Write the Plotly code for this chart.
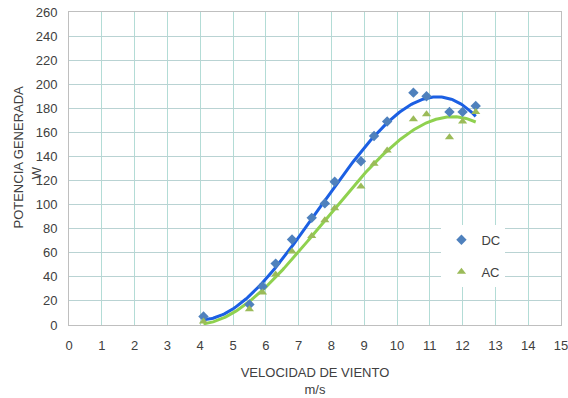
import numpy as np
import plotly.graph_objects as go

# Data
dc_speed = [4.1, 5.5, 5.9, 6.3, 6.8, 7.4, 7.8, 8.1, 8.9, 9.3, 9.7, 10.5, 10.9, 11.6, 12.0, 12.4]
dc_power = [7, 17, 32, 51, 71, 89, 101, 119, 136, 157, 169, 193, 190, 177, 177, 182]

ac_speed = [4.1, 5.5, 5.9, 6.3, 6.8, 7.4, 7.8, 8.1, 8.9, 9.3, 9.7, 10.5, 10.9, 11.6, 12.0, 12.4]
ac_power = [3, 13, 27, 42, 61, 74, 87, 97, 115, 134, 145, 171, 175, 156, 169, 177]

x_ticks = list(range(0, 16))
y_ticks = list(range(0, 261, 20))

FONT = "Liberation Sans, Arial, sans-serif"
TXT = "#404040"

def trend(xs, ys, deg=3):
    c = np.polyfit(xs, ys, deg)
    xx = np.linspace(min(xs), max(xs), 200)
    return xx, np.polyval(c, xx)

fig = go.Figure()

tx, ty = trend(dc_speed, dc_power)
fig.add_trace(go.Scatter(x=tx, y=ty, mode="lines", line=dict(color="#1b5fe3", width=3),
                         showlegend=False, hoverinfo="skip"))
tx2, ty2 = trend(ac_speed, ac_power)
fig.add_trace(go.Scatter(x=tx2, y=ty2, mode="lines", line=dict(color="#8fd14f", width=3),
                         showlegend=False, hoverinfo="skip"))

fig.add_trace(go.Scatter(x=dc_speed, y=dc_power, mode="markers", name="DC",
                         legendgroup="dc",
                         marker=dict(symbol="diamond", size=8, color="#4f81bd")))
fig.add_trace(go.Scatter(x=ac_speed, y=ac_power, mode="markers", name="AC",
                         legendgroup="ac",
                         marker=dict(symbol="triangle-up", size=8, color="#9bbb59")))

fig.update_layout(
    width=568, height=398,
    margin=dict(l=69, r=7, t=12, b=73, autoexpand=False),
    paper_bgcolor="white", plot_bgcolor="white",
    font=dict(family=FONT, size=13, color=TXT),
    legend=dict(x=0.757, y=0.32, xanchor="left", yanchor="top",
                bgcolor="white", borderwidth=0,
                traceorder="grouped", tracegroupgap=12, itemwidth=30,
                font=dict(size=13, color=TXT)),
    annotations=[
        dict(text="POTENCIA GENERADA", textangle=-90, xref="paper", yref="paper",
             x=0, y=0.535, xanchor="center", yanchor="middle", xshift=-50,
             showarrow=False, font=dict(size=13, color=TXT)),
        dict(text="W", textangle=-90, xref="paper", yref="paper",
             x=0, y=0.485, xanchor="center", yanchor="middle", xshift=-33,
             showarrow=False, font=dict(size=13, color=TXT)),
    ],
)
fig.update_xaxes(range=[0, 15], tickvals=x_ticks, ticktext=[str(v) for v in x_ticks],
                 showgrid=True, gridcolor="#b3dcd6", gridwidth=1,
                 showline=True, linecolor="#bfbfbf", mirror=True, zeroline=False,
                 ticks="outside", ticklen=8, tickcolor="rgba(0,0,0,0)", automargin=False,
                 ticklabeloverflow="allow",
                 tickfont=dict(size=13, color=TXT),
                 title=dict(text="VELOCIDAD DE VIENTO<br>m/s", standoff=16,
                            font=dict(size=13, color=TXT)))
fig.update_yaxes(range=[0, 260], tickvals=y_ticks, ticktext=[str(v) for v in y_ticks],
                 showgrid=True, gridcolor="#b9d3d3", gridwidth=1,
                 showline=True, linecolor="#bfbfbf", mirror=True, zeroline=False,
                 ticks="outside", ticklen=8, tickcolor="rgba(0,0,0,0)", automargin=False,
                 ticklabeloverflow="allow",
                 tickfont=dict(size=13, color=TXT))

fig.write_html("out.html", post_script="document.body.style.margin='0';",
               config={"displayModeBar": False})
